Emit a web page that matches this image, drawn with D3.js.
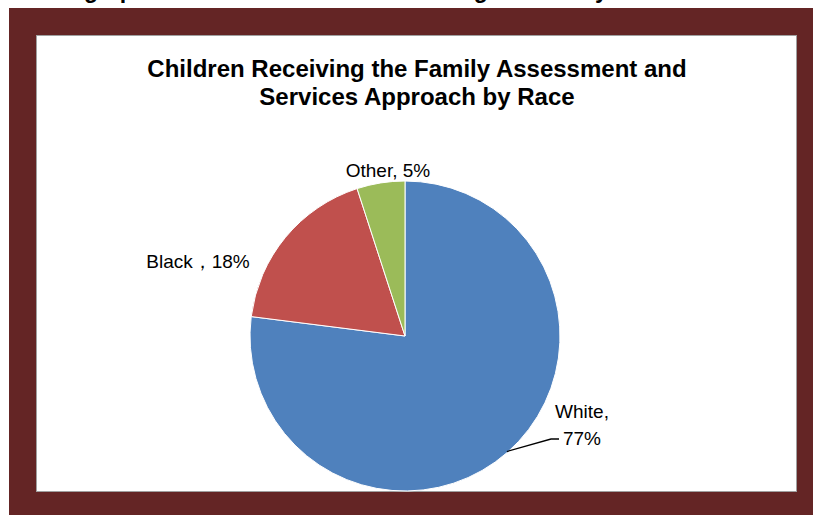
<!DOCTYPE html>
<html lang="en">
<head>
    <meta charset="UTF-8">
    <title>FAA by Race</title>
    <script src="https://cdn.jsdelivr.net/npm/d3@7"></script>
    <style>
        body, html { margin: 0; padding: 0; background: #fff; overflow: hidden; }
        svg { display: block; }
        text { font-family: "Liberation Sans", Arial, sans-serif; }
    </style>
</head>
<body>
    <svg id="mainsvg"></svg>
    <script>
        // data
        const races = ['White', 'Black', 'Other'];
        const shares = [77, 18, 5];
        const labels = [['White,', '77%'], ['Black，18%'], ['Other, 5%']];
        const colors = ['#4F81BD', '#C0504D', '#9BBB59'];

        const width = 813, height = 515;
        const svg = d3.select('svg').attr('width', width).attr('height', height);

        // cut-off heading from the page above
        svg.append('text')
            .attr('x', 20).attr('y', -2)
            .attr('font-size', '23px').attr('font-weight', 'bold')
            .text('Demographic Profile of Children Receiving the Family Assessment and Services Approach');

        // maroon frame + white plot area
        svg.append('rect').attr('x', 9).attr('y', 8)
            .attr('width', width - 9).attr('height', height - 8)
            .attr('fill', '#642525');
        svg.append('rect').attr('x', 36.5).attr('y', 35.5)
            .attr('width', 760).attr('height', 456)
            .attr('fill', '#fff').attr('stroke', '#a0a0a0');

        // title
        const title = svg.append('text')
            .attr('text-anchor', 'middle')
            .attr('font-size', '24px').attr('font-weight', 'bold');
        title.append('tspan').attr('x', 417).attr('y', 77)
            .text('Children Receiving the Family Assessment and');
        title.append('tspan').attr('x', 417).attr('y', 105)
            .text('Services Approach by Race');

        const cx = 405, cy = 336, r = 155;
        const g = svg.append('g').attr('transform', `translate(${cx},${cy})`);

        const data = races.map((d, i) => ({ race: d, value: shares[i], color: colors[i], label: labels[i] }));
        const pie = d3.pie().value(d => d.value).sort(null);
        const arc = d3.arc().innerRadius(0).outerRadius(r);
        const arcs = pie(data);

        g.selectAll('path').data(arcs).enter().append('path')
            .attr('d', arc)
            .attr('fill', d => d.data.color)
            .attr('stroke', '#fff')
            .attr('stroke-width', 1);

        // label anchor points, relative to the pie centre
        const labelPos = {
            White: [177, 82],
            Black: [-207, -68],
            Other: [-17, -159]
        };

        arcs.forEach(a => {
            const [lx, ly] = labelPos[a.data.race];
            const t = g.append('text')
                .attr('text-anchor', 'middle')
                .attr('font-size', '19px')
                .attr('fill', '#000');
            a.data.label.forEach((s, i) => {
                t.append('tspan').attr('x', lx).attr('y', ly + i * 27).text(s);
            });

            if (a.data.race === 'White') {
                // leader line from the slice edge
                const mid = (a.startAngle + a.endAngle) / 2;
                const p0 = [Math.sin(mid) * (r - 1), -Math.cos(mid) * (r - 1)];
                g.append('path')
                    .attr('d', d3.line()([p0, [lx - 31, ly + 21], [lx - 23, ly + 21]]))
                    .attr('fill', 'none').attr('stroke', '#000').attr('stroke-width', 1.3);
            }
        });
    </script>
</body>
</html>
